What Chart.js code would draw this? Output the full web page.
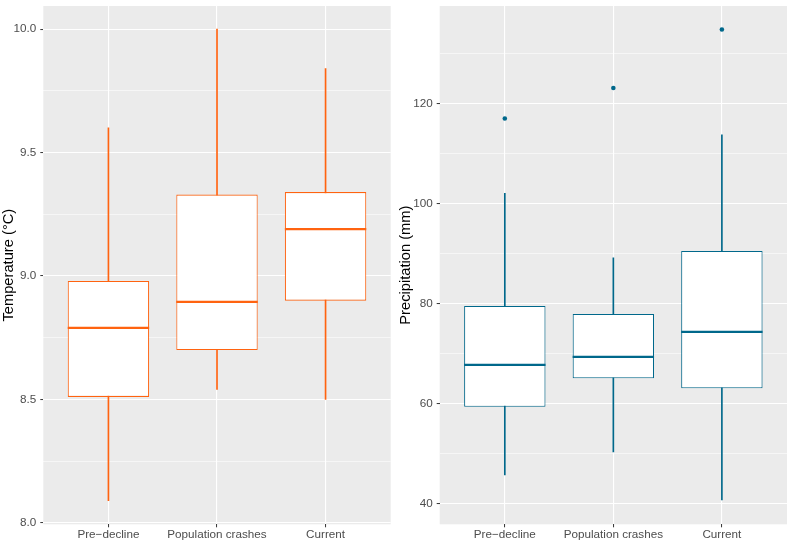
<!DOCTYPE html>
<html>
<head>
<meta charset="utf-8">
<script src="https://cdn.jsdelivr.net/npm/chart.js@4"></script>
<style>
  html, body { margin: 0; padding: 0; background: #ffffff; }
  #wrap { position: relative; width: 797px; height: 548px; }
  .panel { position: absolute; top: 0; }
</style>
</head>
<body>
<div id="wrap">
  <div class="panel" style="left:0;width:397px;height:548px;"><canvas id="c1"></canvas></div>
  <div class="panel" style="left:397px;width:400px;height:548px;"><canvas id="c2"></canvas></div>
</div>
<script>
// ---- Data ----
const categories = ["Pre\u2212decline", "Population crashes", "Current"];

// Temperature (°C)
const tempMin    = [8.09, 8.54, 8.50];
const tempQ1     = [8.51, 8.70, 8.90];
const tempMedian = [8.79, 8.895, 9.19];
const tempQ3     = [8.98, 9.33, 9.34];
const tempMax    = [9.60, 10.00, 9.84];
const tempOutliers = [];           // [categoryIndex, value]
const tempTicks  = [8.0, 8.25, 8.5, 8.75, 9.0, 9.25, 9.5, 9.75, 10.0];
const tempLabeled = [8.0, 8.5, 9.0, 9.5, 10.0];

// Precipitation (mm)
const precMin    = [45.7, 50.3, 40.7];
const precQ1     = [59.3, 65.0, 63.0];
const precMedian = [67.7, 69.3, 74.3];
const precQ3     = [79.5, 77.9, 90.5];
const precMax    = [102.0, 89.1, 113.7];
const precOutliers = [[0, 117.0], [1, 123.1], [2, 134.8]];
const precTicks  = [40, 50, 60, 70, 80, 90, 100, 110, 120, 130];
const precLabeled = [40, 60, 80, 100, 120];

const FONT = "'Liberation Sans', Arial, Helvetica, sans-serif";

const bgPlugin = {
  id: 'panelBg',
  beforeDraw(chart) {
    const {ctx, chartArea: a} = chart;
    ctx.save();
    ctx.fillStyle = '#EBEBEB';
    ctx.fillRect(a.left, a.top, a.right - a.left, a.bottom - a.top);
    ctx.restore();
  }
};

const medianPlugin = {
  id: 'medians',
  afterDatasetsDraw(chart, args, opts) {
    const meta = chart.getDatasetMeta(0);
    const y = chart.scales.y;
    const ctx = chart.ctx;
    ctx.save();
    ctx.strokeStyle = opts.color;
    ctx.lineWidth = 2.2;
    meta.data.forEach((el, i) => {
      const py = y.getPixelForValue(opts.values[i]);
      ctx.beginPath();
      ctx.moveTo(el.x - el.width / 2, py);
      ctx.lineTo(el.x + el.width / 2, py);
      ctx.stroke();
    });
    ctx.restore();
  }
};

function makeChart(id, color, mins, q1, med, q3, maxs, outliers, ticks, labeled, yMin, yMax, title, yWidth, padRight, decimals) {
  const boxData = categories.map((c, i) => ({x: i + 1, y: [q1[i], q3[i]]}));
  const whiskerData = categories.map((c, i) => ({x: i + 1, y: [mins[i], maxs[i]]}));
  const outData = outliers.map(o => ({x: o[0] + 1, y: o[1]}));
  return new Chart(document.getElementById(id), {
    type: 'bar',
    data: {
      datasets: [
        {
          type: 'bar', data: boxData, order: 1, grouped: false,
          backgroundColor: '#FFFFFF', borderColor: color, borderWidth: 1.1,
          borderSkipped: false, barPercentage: 0.75, categoryPercentage: 1.0
        },
        {
          type: 'bar', data: whiskerData, order: 2, grouped: false,
          backgroundColor: color, borderWidth: 0, barThickness: 1
        },
        {
          type: 'scatter', data: outData, order: 0,
          backgroundColor: color, borderColor: color, pointRadius: 2.3, pointHoverRadius: 2.3, borderWidth: 0
        }
      ]
    },
    options: {
      responsive: true,
      maintainAspectRatio: false,
      animation: false,
      events: [],
      layout: { padding: { left: 0, top: 6, right: padRight, bottom: 0 } },
      plugins: {
        legend: { display: false },
        tooltip: { enabled: false },
        medians: { values: med, color: color }
      },
      scales: {
        x: {
          type: 'linear', min: 0.4, max: 3.6, offset: false,
          afterBuildTicks(s) { s.ticks = categories.map((c, i) => ({value: i + 1})); },
          afterFit(s) { s.height = 23.7; s.paddingLeft = 0; s.paddingRight = 0; },
          border: { display: false },
          grid: { offset: false, color: '#FFFFFF', lineWidth: 1.1, tickColor: '#333333', tickLength: 3, tickWidth: 1 },
          ticks: {
            autoSkip: false, maxRotation: 0, padding: 0,
            color: '#4D4D4D', font: { family: FONT, size: 11.7 },
            callback(v) { return categories[Math.round(v) - 1] || ''; }
          }
        },
        y: {
          type: 'linear', min: yMin, max: yMax,
          afterBuildTicks(s) { s.ticks = ticks.map(v => ({value: v})); },
          afterFit(s) { s.width = yWidth; s.paddingTop = 0; s.paddingBottom = 0; },
          border: { display: false },
          grid: {
            color: '#FFFFFF',
            lineWidth(ctx) { return labeled.includes(ctx.tick.value) ? 1.1 : 0.55; },
            tickColor(ctx) { return labeled.includes(ctx.tick.value) ? '#333333' : 'rgba(0,0,0,0)'; },
            tickLength: 3, tickWidth: 1
          },
          ticks: {
            autoSkip: false, padding: 4,
            color: '#4D4D4D', font: { family: FONT, size: 11.7 },
            callback(v) { return labeled.includes(v) ? v.toFixed(decimals) : ''; }
          },
          title: {
            display: true, text: title, color: '#000000', padding: 0,
            font: { family: FONT, size: 14.7, weight: 'normal' }
          }
        }
      }
    },
    plugins: [bgPlugin, medianPlugin]
  });
}

makeChart('c1', '#FF6310', tempMin, tempQ1, tempMedian, tempQ3, tempMax, tempOutliers,
  tempTicks, tempLabeled, 7.994, 10.094, 'Temperature (\u00B0C)', 43.3, 6.3, 1);
makeChart('c2', '#00688B', precMin, precQ1, precMedian, precQ3, precMax, precOutliers,
  precTicks, precLabeled, 35.8, 139.5, 'Precipitation (mm)', 42.7, 10, 0);
</script>
</body>
</html>
